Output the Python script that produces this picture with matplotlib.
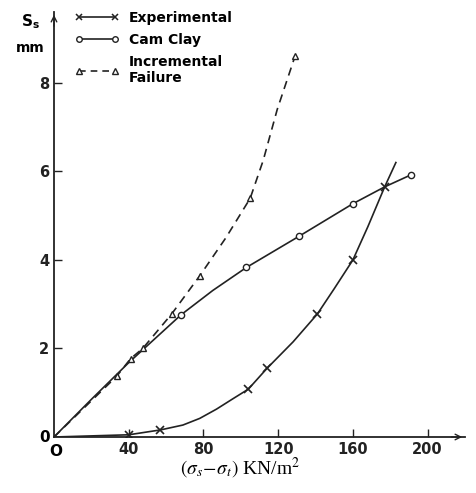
import matplotlib
matplotlib.use("Agg")
import matplotlib.pyplot as plt
from matplotlib.lines import Line2D

# ---- data ----
# Experimental: marked points and traced curve
exp_mark_x = [40, 57, 104, 114, 141, 160, 177]
exp_mark_y = [0.05, 0.16, 1.08, 1.55, 2.78, 4.0, 5.65]
exp_curve_x = [0, 40, 57, 69, 78, 87, 96, 104, 114, 128, 141, 150, 160, 168, 177, 183]
exp_curve_y = [0, 0.05, 0.16, 0.27, 0.42, 0.63, 0.87, 1.08, 1.55, 2.15, 2.78, 3.35, 4.0, 4.75, 5.65, 6.2]

# Cam Clay
cam_mark_x = [68, 103, 131, 160, 191]
cam_mark_y = [2.76, 3.83, 4.53, 5.27, 5.92]
cam_curve_x = [0, 20, 40, 68, 85, 103, 131, 160, 177, 191]
cam_curve_y = [0, 0.85, 1.68, 2.76, 3.31, 3.83, 4.53, 5.27, 5.65, 5.92]

# Incremental Failure
inc_mark_x = [33.5, 41, 47.5, 63, 78, 105, 129]
inc_mark_y = [1.37, 1.77, 2.0, 2.78, 3.64, 5.39, 8.6]
inc_curve_x = [0, 33.5, 41, 47.5, 63, 78, 92, 105, 112, 119.5, 129]
inc_curve_y = [0, 1.37, 1.77, 2.0, 2.78, 3.64, 4.5, 5.39, 6.25, 7.4, 8.6]

x_ticks = [40, 80, 120, 160, 200]
y_ticks = [2, 4, 6, 8]

# ---- figure ----
fig = plt.figure(figsize=(4.77, 4.93), dpi=100)
ax = fig.add_axes([54/477, 1-437/493, (465-54)/477, (437-12)/493])
ax.set_xlim(0, 220)
ax.set_ylim(0, 9.6)

lw = 1.2
col = "#222222"
ax.plot(exp_curve_x, exp_curve_y, color=col, lw=lw)
ax.plot(exp_mark_x, exp_mark_y, ls="none", marker="x", ms=6, mew=1.2, color=col)
ax.plot(cam_curve_x, cam_curve_y, color=col, lw=lw)
ax.plot(cam_mark_x, cam_mark_y, ls="none", marker="o", ms=4.5, mfc="white", mew=1.0, color=col)
ax.plot(inc_curve_x, inc_curve_y, color=col, lw=lw, ls=(0, (5, 3.5)))
ax.plot(inc_mark_x, inc_mark_y, ls="none", marker="^", ms=5, mfc="white", mew=1.0, color=col)

for s in ["top", "right"]:
    ax.spines[s].set_visible(False)
for s in ["left", "bottom"]:
    ax.spines[s].set_linewidth(1.3)
    ax.spines[s].set_color(col)

ax.set_xticks(x_ticks)
ax.set_yticks(y_ticks)
ax.tick_params(direction="in", length=6, width=1.0, colors=col, labelsize=10.5)
ax.set_xticklabels([str(v) for v in x_ticks], fontweight="bold")
ax.set_yticklabels([str(v) for v in y_ticks], fontweight="bold")

# origin labels
ax.text(-2, 0, "0", ha="right", va="center", fontsize=11, fontweight="bold", transform=ax.transData)
ax.text(1, -0.15, "O", ha="center", va="top", fontsize=11, fontweight="bold", transform=ax.transData)

# arrows at axis ends
ax.annotate("", xy=(1.0, 0), xytext=(0.96, 0), xycoords="axes fraction",
            arrowprops=dict(arrowstyle="->", color=col, lw=1.0))
ax.annotate("", xy=(0, 1.0), xytext=(0, 0.96), xycoords="axes fraction",
            arrowprops=dict(arrowstyle="->", color=col, lw=1.0))

# axis labels
fig.text(30/477, 1-22/493, r"$\mathbf{S_s}$", ha="center", va="center", fontsize=11)
fig.text(30/477, 1-48/493, "mm", ha="center", va="center", fontsize=10, fontweight="bold")
fig.text(240/477, 1-468/493, r"$(\sigma_s\!-\!\sigma_t)$ KN/m$^2$", ha="center", va="center",
         fontsize=14, family="Liberation Serif", math_fontfamily="stix")

# legend
handles = [
    Line2D([], [], color=col, lw=lw, marker="x", ms=5, mew=1.1),
    Line2D([], [], color=col, lw=lw, marker="o", ms=4, mfc="white"),
    Line2D([], [], color=col, lw=lw, ls=(0, (4, 3)), marker="^", ms=4.5, mfc="white"),
]
leg = fig.legend(handles, ["Experimental", "Cam Clay", "Incremental\nFailure"],
                 loc="upper left", bbox_to_anchor=(62/477, 1+2/493), frameon=False,
                 numpoints=2, handlelength=3.2, handletextpad=0.7, labelspacing=0.6,
                 prop=dict(weight="bold", size=10))

fig.savefig("out.png", dpi=100)
